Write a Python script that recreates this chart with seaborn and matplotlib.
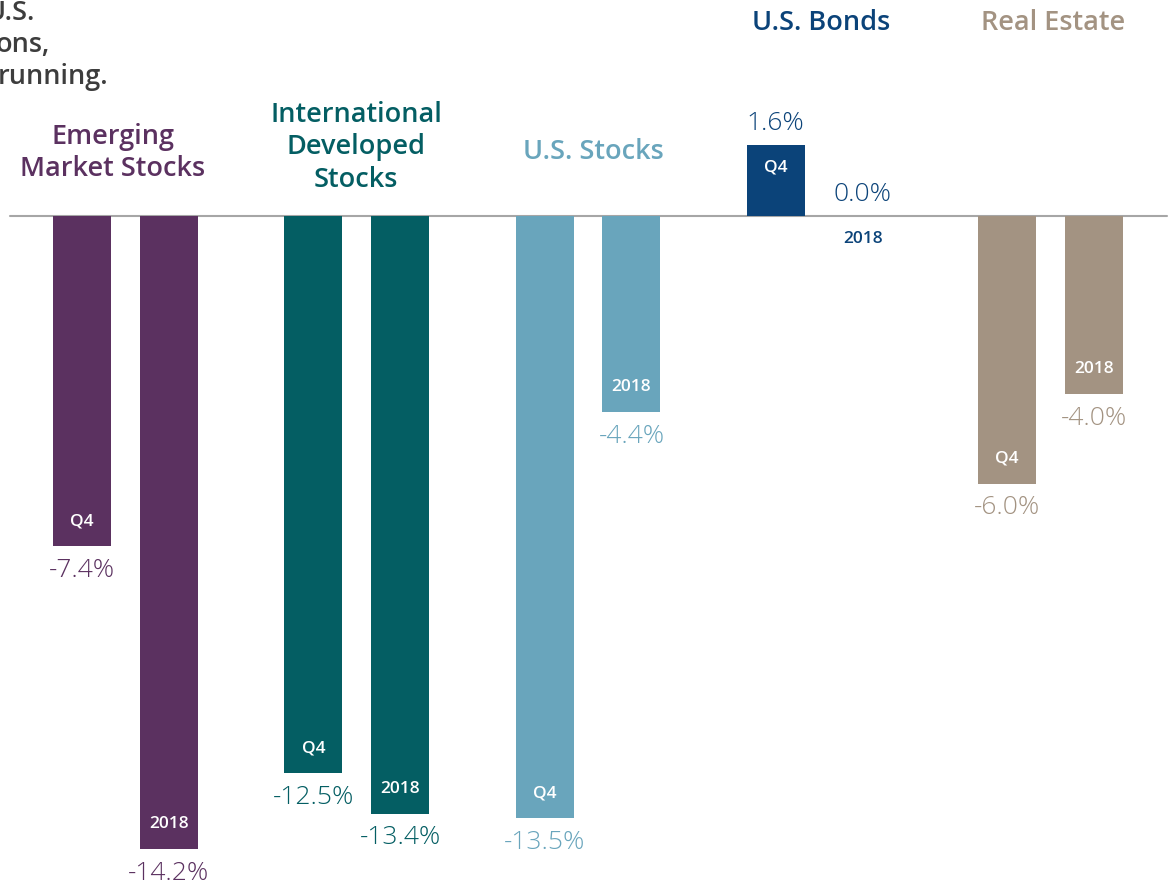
import matplotlib
matplotlib.use("Agg")
from matplotlib import pyplot as plt
import pandas as pd
import seaborn as sns

# values (total return, %)
assets = ["Emerging\nMarket Stocks", "International\nDeveloped\nStocks",
          "U.S. Stocks", "U.S. Bonds", "Real Estate"]
periods = ["Q4", "2018"]
q4_returns = [-7.4, -12.5, -13.5, 1.6, -6.0]
year_returns = [-14.2, -13.4, -4.4, 0.0, -4.0]
colors = ["#5B3160", "#045E63", "#69A5BC", "#0B4379", "#A39382"]
intro_lines = ["U.S.", "ons,", "running."]

df = pd.DataFrame({
    "asset": assets * 2,
    "period": ["Q4"] * len(assets) + ["2018"] * len(assets),
    "ret": q4_returns + year_returns,
})

sns.set_style("white")
plt.rcParams["font.family"] = ["Open Sans", "DejaVu Sans"]

fig = plt.figure(figsize=(11.69, 8.85), dpi=100)
ax = fig.add_axes([0, 0, 1, 1])

sns.barplot(data=df, x="asset", y="ret", hue="period", order=assets,
            hue_order=periods, width=0.752, gap=0.333, saturation=1,
            legend=False, ax=ax)

values = [q4_returns, year_returns]
for j, cont in enumerate(ax.containers):
    for i, bar in enumerate(cont):
        c = colors[i]
        bar.set_facecolor(c)
        bar.set_edgecolor("none")
        v = values[j][i]
        xc = bar.get_x() + bar.get_width() / 2
        # value label outside the bar end
        off = -24 if v < 0 else 21
        ax.annotate(f"{v:.1f}%", (xc, v), xytext=(0, off * 0.72),
                    textcoords="offset points", ha="center", va="center",
                    fontsize=19, color=c, fontweight="light")
        # period label inside, near the bar end
        inner = 25 if v < 0 else -23
        ax.annotate(periods[j], (xc, v), xytext=(0, inner * 0.72),
                    textcoords="offset points", ha="center", va="center",
                    fontsize=12.5, fontweight="semibold",
                    color="white" if v != 0 else c)

# category titles
title_pos = [(-0.054, 1.41), (0.997, 1.54), (2.025, 1.43), (3.01, 4.32), (4.01, 4.32)]
for name, c, (tx, ty) in zip(assets, colors, title_pos):
    ax.text(tx, ty, name, ha="center", va="center", fontsize=19.5,
            fontweight="semibold", color=c, linespacing=1.2)

ax.axhline(0, xmin=10 / 1169, xmax=1167 / 1169, color="#A6A6A6", lw=1.5, zorder=0)

ax.set_xlim(-0.5427, 4.5124)
ax.set_ylim(-15.0, 4.843)
ax.axis("off")

# intro text cut off at the left edge
for k, line in enumerate(intro_lines):
    fig.text([35, 50, 108][k] / 1169, 1 - (20 + 32 * k) / 885, line,
             ha="right", va="baseline", fontsize=19.5, fontweight="semibold",
             color="#3D3D3D")

fig.savefig("out.png", dpi=100)
